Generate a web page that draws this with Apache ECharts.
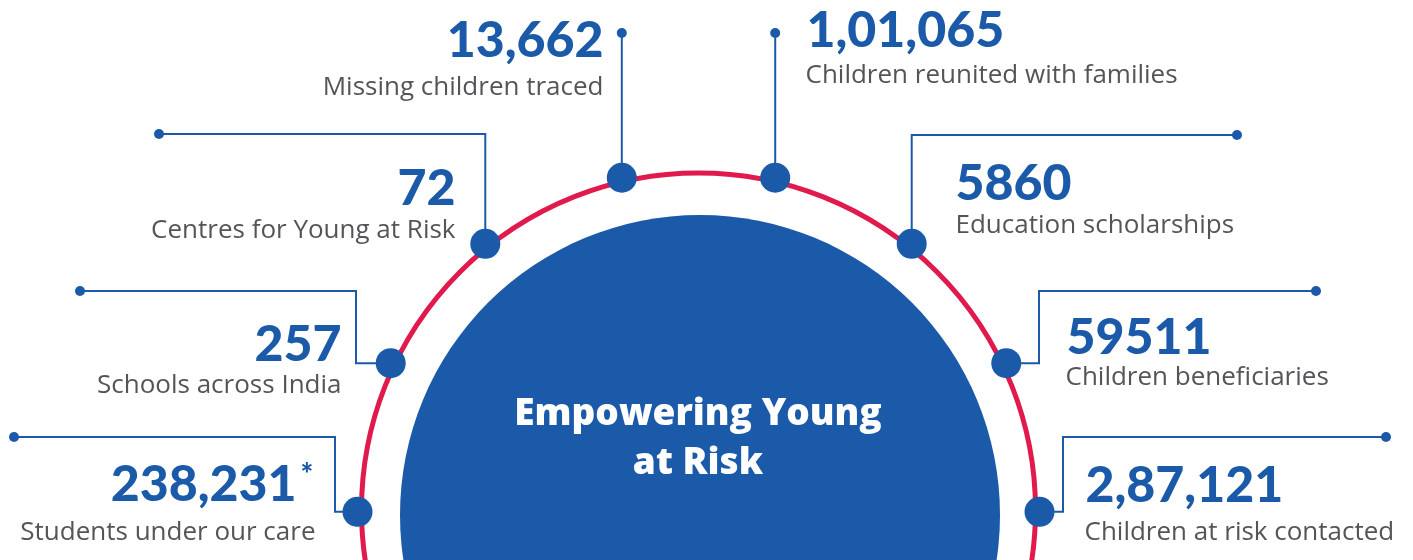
<!DOCTYPE html>
<html>
<head>
<meta charset="utf-8">
<script src="https://cdn.jsdelivr.net/npm/echarts@6/dist/echarts.min.js"></script>
<style>
html,body{margin:0;padding:0;background:#fff;}
#chart{width:1413px;height:560px;}
</style>
</head>
<body>
<div id="chart"></div>
<script>
// ---- data ----
const values = ['13,662', '1,01,065', '72', '5860', '257', '59511', '238,231', '2,87,121'];
const captions = [
  'Missing children traced',
  'Children reunited with families',
  'Centres for Young at Risk',
  'Education scholarships',
  'Schools across India',
  'Children beneficiaries',
  'Students under our care',
  'Children at risk contacted'
];
const marks = ['', '', '', '', '', '', '*', ''];
const titleLines = ['Empowering Young', 'at Risk'];

// ---- layout (positions / styles) ----
const W = 1413, H = 560;
const ring = { cx: 698.5, cy: 510, r: 337, dotR: 341, width: 5 };
const core = { cx: 700, cy: 515, r: 300 };
const angles = [103, 77, 128.7, 51.3, 154.5, 25.5, 180.3, -0.3];
const elbowX = [null, null, null, null, 356, 1039, 335, 1063];
const topY = [33, 33, 134, 135, 291, 291, 437, 437];
const endX = [null, null, 159, 1237, 80, 1316, 14, 1386];
const side = ['left', 'right', 'left', 'right', 'left', 'right', 'left', 'right'];
const numX = [604, 806, 456, 955, 342, 1066, 297, 1085];
const numBase = [57, 47, 205, 200, 361, 354, 501, 502];
const capX = [604, 805, 456, 955, 342, 1065, 316, 1084];
const capBase = [95, 83, 238, 233, 393, 385, 540, 540];

const BLUE = '#1b5aa8';
const RED = '#e11a4e';
const GREY = '#555558';
const NUM_SIZE = 50, CAP_SIZE = 26;
const MID_LATO = 0.3225, MID_OPEN = 0.3;

const dots = angles.map(a => {
  const t = a * Math.PI / 180;
  return [ring.cx + ring.dotR * Math.cos(t), ring.cy - ring.dotR * Math.sin(t)];
});
const paths = dots.map((d, i) => {
  const ex = elbowX[i] == null ? d[0] : elbowX[i];
  const fx = endX[i] == null ? ex : endX[i];
  return [d, [ex, d[1]], [ex, topY[i]], [fx, topY[i]]];
});
const ends = paths.map(p => p[p.length - 1]);

const chart = echarts.init(document.getElementById('chart'), null, { renderer: 'canvas' });

const textPoint = (x, base, size, mid, pos) => ({
  value: [x, base - mid * size],
  label: { position: pos, distance: 0 }
});
const hidden = { color: 'rgba(0,0,0,0)', opacity: 1 };

chart.setOption({
  animation: false,
  backgroundColor: '#ffffff',
  grid: { left: 0, right: 0, top: 0, bottom: 0 },
  xAxis: { type: 'value', min: 0, max: W, show: false },
  yAxis: { type: 'value', min: 0, max: H, inverse: true, show: false },
  series: [
    {
      name: 'ring', type: 'scatter', silent: true, z: 1,
      symbol: 'circle', symbolSize: ring.r * 2,
      itemStyle: { color: 'rgba(0,0,0,0)', borderColor: RED, borderWidth: ring.width, opacity: 1 },
      emphasis: { disabled: true },
      data: [[ring.cx, ring.cy]]
    },
    {
      name: 'core', type: 'scatter', silent: true, z: 2,
      symbol: 'circle', symbolSize: core.r * 2,
      itemStyle: { color: BLUE, opacity: 1 },
      emphasis: { disabled: true },
      label: {
        show: true, position: 'inside', offset: [-2, -76],
        formatter: titleLines.join('\n'),
        color: '#ffffff', fontFamily: 'Open Sans', fontWeight: 800, fontSize: 37,
        lineHeight: 49, align: 'center'
      },
      data: [[core.cx, core.cy]]
    },
    {
      name: 'connectors', type: 'lines', coordinateSystem: 'cartesian2d',
      polyline: true, silent: true, z: 3,
      lineStyle: { color: BLUE, width: 2, opacity: 1 },
      data: paths.map(p => ({ coords: p }))
    },
    {
      name: 'ends', type: 'scatter', silent: true, z: 4,
      symbolSize: 10, itemStyle: { color: BLUE, opacity: 1 },
      data: ends
    },
    {
      name: 'nodes', type: 'scatter', silent: true, z: 5,
      symbolSize: 30, itemStyle: { color: BLUE, opacity: 1 },
      data: dots
    },
    {
      name: 'values', type: 'scatter', silent: true, z: 6,
      symbolSize: 1, itemStyle: hidden,
      label: {
        show: true, color: BLUE, fontFamily: 'Lato', fontWeight: 900, fontSize: NUM_SIZE,
        formatter: p => values[p.dataIndex]
      },
      data: values.map((v, i) => textPoint(numX[i], numBase[i], NUM_SIZE, MID_LATO, side[i]))
    },
    {
      name: 'marks', type: 'scatter', silent: true, z: 6,
      symbolSize: 1, itemStyle: hidden,
      label: {
        show: true, color: BLUE, fontFamily: 'Lato', fontWeight: 900, fontSize: 30,
        position: 'right', distance: 0,
        formatter: p => marks[p.dataIndex]
      },
      data: marks.map((m, i) => [numX[i] + 3, numBase[i] - 26])
    },
    {
      name: 'captions', type: 'scatter', silent: true, z: 6,
      symbolSize: 1, itemStyle: hidden,
      label: {
        show: true, color: GREY, fontFamily: 'Open Sans', fontWeight: 400, fontSize: CAP_SIZE,
        formatter: p => captions[p.dataIndex]
      },
      data: captions.map((c, i) => textPoint(capX[i], capBase[i], CAP_SIZE, MID_OPEN, side[i]))
    }
  ]
});
</script>
</body>
</html>
